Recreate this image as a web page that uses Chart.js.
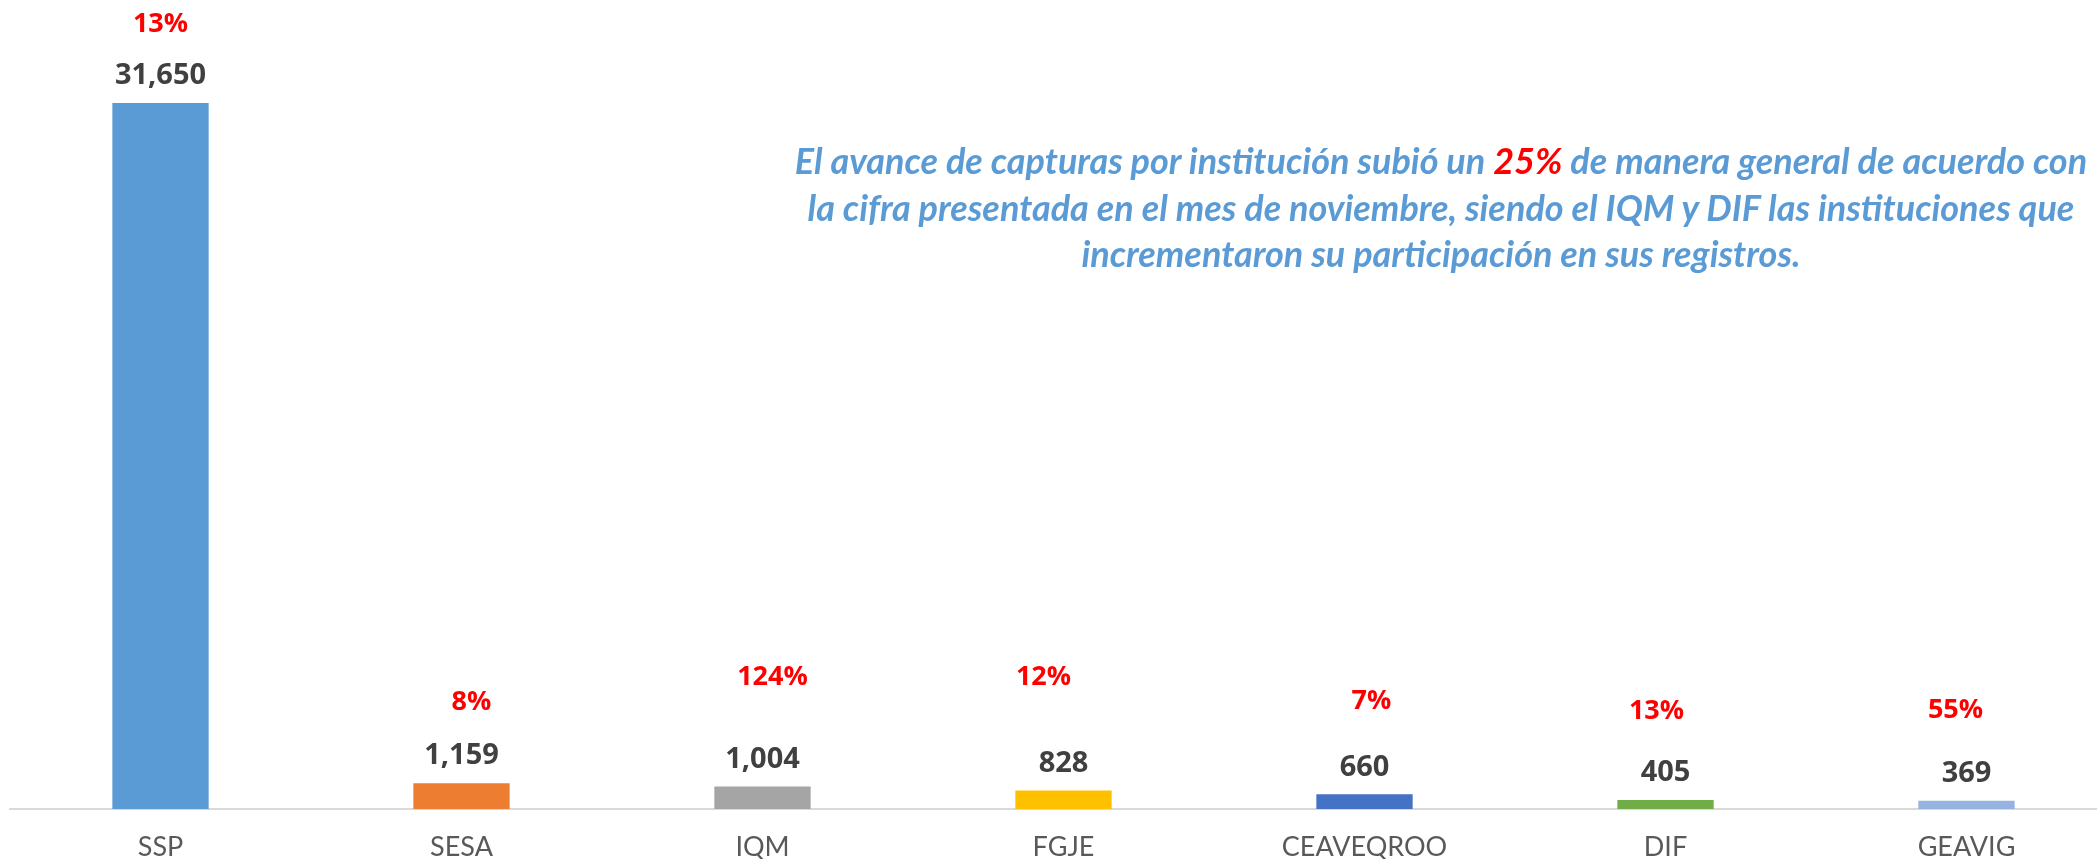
<!DOCTYPE html>
<html>
<head>
<meta charset="utf-8">
<script src="https://cdn.jsdelivr.net/npm/chart.js@4"></script>
<style>
  html, body { margin: 0; padding: 0; background: #fff; overflow: hidden; }
  #wrap { position: relative; width: 2120px; height: 859px; }
  #note {
    position: absolute; left: 1441px; top: 137px; transform: translateX(-50%);
    text-align: center; white-space: nowrap;
    font: italic bold 36px Lato, sans-serif; line-height: 46.5px; color: #5B9BD5;
  }
  #note .hl { color: #FF0000; }
</style>
</head>
<body>
<div id="wrap">
  <canvas id="chart" width="2120" height="859"></canvas>
  <div id="note">El avance de capturas por institución subió un <span class="hl">25%</span> de manera general de acuerdo con<br>la cifra presentada en el mes de noviembre, siendo el IQM y DIF las instituciones que<br>incrementaron su participación en sus registros.</div>
</div>
<script>
const institutions = ["SSP", "SESA", "IQM", "FGJE", "CEAVEQROO", "DIF", "GEAVIG"];
const captures = [31650, 1159, 1004, 828, 660, 405, 369];
const growth = ["13%", "8%", "124%", "12%", "7%", "13%", "55%"];
const barColors = ["#5B9BD5", "#ED7D31", "#A5A5A5", "#FFC000", "#4472C4", "#70AD47", "#95B3DE"];

// where each growth label sits, relative to the top of its bar (px)
const growthOffsets = [[0, -79], [10, -81], [10, -109], [-20, -113], [7, -93], [-9, -89], [-11, -90]];

const labelsPlugin = {
  id: "barLabels",
  afterDatasetsDraw(chart) {
    const ctx = chart.ctx;
    const meta = chart.getDatasetMeta(0);
    ctx.save();
    ctx.textAlign = "center";
    ctx.textBaseline = "middle";
    meta.data.forEach((bar, i) => {
      ctx.fillStyle = "#404040";
      ctx.font = "bold 29px 'Open Sans', sans-serif";
      ctx.fillText(captures[i].toLocaleString("en-US"), bar.x, bar.y - 27);
      ctx.fillStyle = "#FF0000";
      ctx.font = "bold 27px 'Open Sans', sans-serif";
      ctx.fillText(growth[i], bar.x + growthOffsets[i][0], bar.y + growthOffsets[i][1]);
    });
    ctx.restore();
  }
};

new Chart(document.getElementById("chart"), {
  type: "bar",
  data: {
    labels: institutions,
    datasets: [{
      data: captures,
      backgroundColor: barColors,
      categoryPercentage: 1,
      barPercentage: 0.32
    }]
  },
  options: {
    responsive: false,
    animation: false,
    devicePixelRatio: 1,
    layout: { padding: { left: 10, right: 3, top: 6, bottom: 0 } },
    plugins: { legend: { display: false }, tooltip: { enabled: false } },
    scales: {
      x: {
        grid: { display: false, drawTicks: false },
        border: { display: true, color: "#D9D9D9", width: 2 },
        ticks: { color: "#595959", font: { family: "Lato", size: 27 }, padding: 22 },
        afterFit(scale) { scale.height = 50; }
      },
      y: { display: false, min: 0, max: 36000 }
    }
  },
  plugins: [labelsPlugin]
});
</script>
</body>
</html>
